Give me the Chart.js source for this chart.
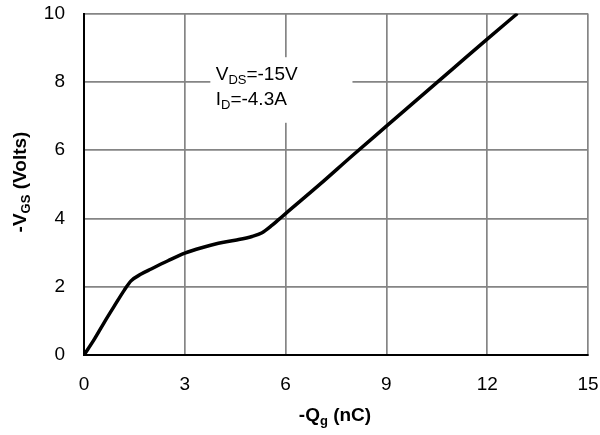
<!DOCTYPE html>
<html>
<head>
<meta charset="utf-8">
<script src="https://cdn.jsdelivr.net/npm/chart.js@4/dist/chart.umd.min.js"></script>
<style>
html,body{margin:0;padding:0;background:#fff;}
#wrap{width:600px;height:435px;}
</style>
</head>
<body>
<div id="wrap"><canvas id="c" width="600" height="435"></canvas></div>
<script>
// Gate charge curve: -Qg (nC) vs -VGS (V)
const qg  = [0, 0.3, 0.6, 0.9, 1.2, 1.4, 1.7, 2.0, 2.5, 3.0, 3.5, 4.0, 4.5, 5.0, 5.3, 5.6, 5.8, 6.0, 7.0, 8.0, 9.0, 10.0, 11.0, 12.0, 12.9];
const vgs = [0, 0.45, 0.95, 1.43, 1.9, 2.17, 2.37, 2.52, 2.76, 2.98, 3.14, 3.27, 3.36, 3.47, 3.58, 3.8, 3.97, 4.14, 4.98, 5.85, 6.7, 7.55, 8.4, 9.25, 10.0];
const xTicks = [0, 3, 6, 9, 12, 15];
const yTicks = [0, 2, 4, 6, 8, 10];
const noteLines = [[["V",0],["DS",1],["=-15V",0]], [["I",0],["D",1],["=-4.3A",0]]];
const xTitle = [["-Q",0],["g",1],[" (nC)",0]];
const yTitle = [["-V",0],["GS",1],[" (Volts)",0]];

const FONT = "'Liberation Sans', Arial, sans-serif";

function partsWidth(ctx, parts, size, bold, subSize){
  let w = 0;
  for (const [t,s] of parts){
    ctx.font = (bold?"bold ":"") + (s?subSize:size) + "px " + FONT;
    w += ctx.measureText(t).width;
  }
  return w;
}
function drawParts(ctx, parts, x, y, size, bold, subSize, subDrop){
  let cx = x;
  ctx.textBaseline = "alphabetic";
  ctx.textAlign = "left";
  for (const [t,s] of parts){
    ctx.font = (bold?"bold ":"") + (s?subSize:size) + "px " + FONT;
    ctx.fillText(t, cx, s ? y + subDrop : y);
    cx += ctx.measureText(t).width;
  }
}

const overlay = {
  id: 'overlay',
  afterDraw(chart){
    const ctx = chart.ctx;
    const xs = chart.scales.x, ys = chart.scales.y;
    ctx.save();
    // white box behind the note
    const bx0 = xs.getPixelForValue(3.76), bx1 = xs.getPixelForValue(7.99);
    const by0 = ys.getPixelForValue(8.72), by1 = ys.getPixelForValue(6.8);
    ctx.fillStyle = "#fff";
    ctx.fillRect(bx0, by0, bx1 - bx0, by1 - by0);
    ctx.fillStyle = "#000";
    const nx = xs.getPixelForValue(3.92);
    drawParts(ctx, noteLines[0], nx, ys.getPixelForValue(8.06), 19, false, 13, 4);
    drawParts(ctx, noteLines[1], nx, ys.getPixelForValue(7.33), 19, false, 13, 4);
    // x title
    const xw = partsWidth(ctx, xTitle, 19, true, 13);
    drawParts(ctx, xTitle, 335 - xw/2, 421, 19, true, 13, 4);
    // y title (rotated)
    const yw = partsWidth(ctx, yTitle, 19, true, 13);
    ctx.translate(26, 182);
    ctx.rotate(-Math.PI/2);
    drawParts(ctx, yTitle, -yw/2, 0, 19, true, 13, 4);
    ctx.restore();
  }
};

new Chart(document.getElementById('c'), {
  type: 'scatter',
  data: {
    datasets: [{
      data: qg.map((q,i) => ({x: q, y: vgs[i]})),
      showLine: true,
      borderColor: '#000',
      borderWidth: 3.5,
      pointRadius: 0,
      cubicInterpolationMode: 'monotone',
      fill: false
    }]
  },
  options: {
    responsive: false,
    animation: false,
    events: [],
    layout: { padding: { left: 0, right: 12, top: 13.5, bottom: 0 } },
    plugins: { legend: { display: false }, tooltip: { enabled: false } },
    scales: {
      x: {
        type: 'linear', min: 0, max: 15,
        afterBuildTicks: s => { s.ticks = xTicks.map(v => ({value: v})); },
        afterFit: s => { s.height = 80; s.paddingLeft = 0; s.paddingRight = 0; },
        ticks: { color: '#000', font: { family: FONT, size: 19 }, padding: 18, maxRotation: 0 },
        grid: { color: '#858585', lineWidth: 1.7, drawTicks: false },
        border: { color: '#000', width: 2 }
      },
      y: {
        type: 'linear', min: 0, max: 10,
        afterBuildTicks: s => { s.ticks = yTicks.map(v => ({value: v})); },
        afterFit: s => { s.width = 84; s.paddingTop = 0; s.paddingBottom = 0; },
        ticks: { color: '#000', font: { family: FONT, size: 19 }, padding: 19 },
        grid: { color: '#858585', lineWidth: 1.7, drawTicks: false },
        border: { color: '#000', width: 2 }
      }
    }
  },
  plugins: [overlay]
});
</script>
</body>
</html>
